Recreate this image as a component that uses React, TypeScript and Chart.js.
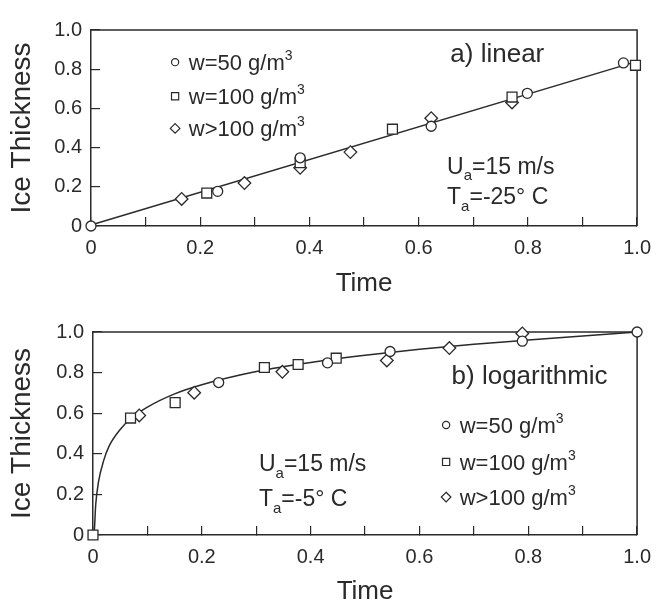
import React, { useEffect, useRef } from 'react';
import { Chart, registerables } from 'chart.js';

Chart.register(...registerables);

const FONT = '"Liberation Sans", Arial, Helvetica, sans-serif';
const INK = '#2a2a2a';

// ---------- Panel a) linear ----------
const linCircleX = [0, 0.232, 0.383, 0.623, 0.799, 0.975];
const linCircleY = [0, 0.177, 0.348, 0.509, 0.677, 0.832];
const linSquareX = [0.212, 0.383, 0.552, 0.771, 0.997];
const linSquareY = [0.168, 0.323, 0.494, 0.658, 0.82];
const linDiamondX = [0.166, 0.281, 0.383, 0.475, 0.623, 0.771];
const linDiamondY = [0.138, 0.219, 0.297, 0.377, 0.55, 0.63];
const linFitX = [0, 1.0];
const linFitY = [0.005, 0.84];

// ---------- Panel b) logarithmic ----------
const logCircleX = [0.231, 0.431, 0.546, 0.789, 1.0];
const logCircleY = [0.751, 0.848, 0.904, 0.955, 1.0];
const logSquareX = [0, 0.069, 0.151, 0.315, 0.377, 0.447];
const logSquareY = [0, 0.576, 0.652, 0.825, 0.84, 0.871];
const logDiamondX = [0.085, 0.186, 0.348, 0.54, 0.655, 0.789];
const logDiamondY = [0.589, 0.701, 0.804, 0.86, 0.921, 0.993];
const logFitX = [0, 0.002, 0.005, 0.01, 0.02, 0.03, 0.05, 0.07, 0.1, 0.15, 0.2, 0.3, 0.4, 0.5, 0.6, 0.7, 0.8, 0.9, 1.0];
const logFitY = [0, 0.01, 0.15, 0.26, 0.37, 0.44, 0.52, 0.575, 0.63, 0.695, 0.74, 0.805, 0.85, 0.885, 0.915, 0.94, 0.96, 0.98, 1.0];

// ---------- Text ----------
const seriesNames = ['w=50 g/m', 'w=100 g/m', 'w>100 g/m'];
const seriesStyles = ['circle', 'rect', 'rectRot'];
const xTitle = 'Time';
const yTitle = 'Ice Thickness';

type Seg = { t: string; mode?: 'sup' | 'sub' };

function pts(xs: number[], ys: number[]) {
  return xs.map((x, i) => ({ x, y: ys[i] }));
}

function xTickLabel(v: number) {
  const r = Math.round(v * 10);
  if (r === 0) return '0';
  if (r % 2 !== 0) return '';
  return (r / 10).toFixed(1);
}
function yTickLabel(v: number) {
  const r = Math.round(v * 10);
  if (r === 0) return '0';
  return (r / 10).toFixed(1);
}

function drawRich(ctx: CanvasRenderingContext2D, x: number, cy: number, segs: Seg[], size: number) {
  const base = cy + size * 0.36;
  let cx = x;
  ctx.textAlign = 'left';
  ctx.textBaseline = 'alphabetic';
  ctx.fillStyle = INK;
  for (const s of segs) {
    const fs = s.mode ? Math.round(size * 0.64) : size;
    ctx.font = `${fs}px ${FONT}`;
    const dy = s.mode === 'sup' ? -size * 0.45 : s.mode === 'sub' ? size * 0.3 : 0;
    ctx.fillText(s.t, cx, base + dy);
    cx += ctx.measureText(s.t).width;
  }
}

function drawMarker(ctx: CanvasRenderingContext2D, style: string, x: number, y: number) {
  ctx.beginPath();
  if (style === 'circle') {
    ctx.arc(x, y, 3.6, 0, Math.PI * 2);
  } else if (style === 'rect') {
    ctx.rect(x - 3.6, y - 3.6, 7.2, 7.2);
  } else {
    const r = 4.8;
    ctx.moveTo(x, y - r);
    ctx.lineTo(x + r, y);
    ctx.lineTo(x, y + r);
    ctx.lineTo(x - r, y);
    ctx.closePath();
  }
  ctx.fillStyle = '#fff';
  ctx.fill();
  ctx.strokeStyle = INK;
  ctx.lineWidth = 1.2;
  ctx.stroke();
}

interface PanelCfg {
  top: number;
  height: number;
  padTop: number;
  padRight: number;
  yWidth: number;
  xHeight: number;
  circles: { x: number; y: number }[];
  squares: { x: number; y: number }[];
  diamonds: { x: number; y: number }[];
  fit: { x: number; y: number }[];
  smooth: boolean;
  label: { text: string; x: number; y: number };
  legend: { mx: number; tx: number; ys: number[] };
  cond: { x: number; ys: number[]; temp: string };
}

const panelA: PanelCfg = {
  top: 0,
  height: 300,
  padTop: 13,
  padRight: 21,
  yWidth: 91,
  xHeight: 74,
  circles: pts(linCircleX, linCircleY),
  squares: pts(linSquareX, linSquareY),
  diamonds: pts(linDiamondX, linDiamondY),
  fit: pts(linFitX, linFitY),
  smooth: false,
  label: { text: 'a) linear', x: 0.658, y: 0.883 },
  legend: { mx: 0.154, tx: 0.179, ys: [0.836, 0.662, 0.498] },
  cond: { x: 0.652, ys: [0.31, 0.155], temp: '=-25° C' },
};

const panelB: PanelCfg = {
  top: 300,
  height: 308,
  padTop: 32,
  padRight: 19,
  yWidth: 93,
  xHeight: 73,
  circles: pts(logCircleX, logCircleY),
  squares: pts(logSquareX, logSquareY),
  diamonds: pts(logDiamondX, logDiamondY),
  fit: pts(logFitX, logFitY),
  smooth: true,
  label: { text: 'b) logarithmic', x: 0.659, y: 0.788 },
  legend: { mx: 0.649, tx: 0.674, ys: [0.542, 0.36, 0.187] },
  cond: { x: 0.305, ys: [0.355, 0.182], temp: '=-5° C' },
};

function buildConfig(cfg: PanelCfg): any {
  const markerCommon = {
    showLine: false,
    pointBackgroundColor: '#fff',
    pointBorderColor: INK,
    pointBorderWidth: 1.3,
    clip: false as any,
    order: 0,
  };
  const decor = {
    id: 'decor',
    beforeDatasetsDraw(chart: any) {
      const { ctx, chartArea: a } = chart;
      ctx.save();
      ctx.strokeStyle = INK;
      ctx.lineWidth = 1.5;
      ctx.beginPath();
      ctx.moveTo(a.left, a.top);
      ctx.lineTo(a.right, a.top);
      ctx.lineTo(a.right, a.bottom);
      ctx.stroke();
      ctx.restore();
    },
    afterDatasetsDraw(chart: any) {
      const { ctx } = chart;
      const xs = chart.scales.x;
      const ys = chart.scales.y;
      ctx.save();
      // panel label
      drawRich(ctx, xs.getPixelForValue(cfg.label.x), ys.getPixelForValue(cfg.label.y), [{ t: cfg.label.text }], 26);
      // legend
      cfg.legend.ys.forEach((yv, i) => {
        const py = ys.getPixelForValue(yv);
        drawMarker(ctx, seriesStyles[i], xs.getPixelForValue(cfg.legend.mx), py);
        drawRich(ctx, xs.getPixelForValue(cfg.legend.tx), py, [{ t: seriesNames[i] }, { t: '3', mode: 'sup' }], 22);
      });
      // conditions
      const cx = xs.getPixelForValue(cfg.cond.x);
      drawRich(ctx, cx, ys.getPixelForValue(cfg.cond.ys[0]), [{ t: 'U' }, { t: 'a', mode: 'sub' }, { t: '=15 m/s' }], 23);
      drawRich(ctx, cx, ys.getPixelForValue(cfg.cond.ys[1]), [{ t: 'T' }, { t: 'a', mode: 'sub' }, { t: cfg.cond.temp }], 23);
      ctx.restore();
    },
  };
  return {
    type: 'scatter',
    data: {
      datasets: [
        { ...markerCommon, label: seriesNames[0], data: cfg.circles, pointStyle: 'circle', pointRadius: 5 },
        { ...markerCommon, label: seriesNames[1], data: cfg.squares, pointStyle: 'rect', pointRadius: 7 },
        { ...markerCommon, label: seriesNames[2], data: cfg.diamonds, pointStyle: 'rectRot', pointRadius: 6.3 },
        {
          label: 'fit',
          data: cfg.fit,
          showLine: true,
          pointRadius: 0,
          borderColor: INK,
          borderWidth: 1.5,
          tension: 0,
          cubicInterpolationMode: cfg.smooth ? 'monotone' : 'default',
          order: 1,
          clip: false,
        },
      ],
    },
    options: {
      responsive: false,
      animation: false,
      events: [],
      layout: { padding: { top: cfg.padTop, right: cfg.padRight, left: 0, bottom: 0 } },
      plugins: { legend: { display: false }, tooltip: { enabled: false } },
      scales: {
        x: {
          type: 'linear',
          min: 0,
          max: 1,
          ticks: {
            stepSize: 0.1,
            autoSkip: false,
            maxRotation: 0,
            padding: 19,
            color: INK,
            font: { family: FONT, size: 20 },
            callback: (v: any) => xTickLabel(Number(v)),
          },
          grid: { drawOnChartArea: false, drawTicks: true, tickLength: -9, color: INK, lineWidth: 1.2 },
          border: { display: true, color: INK, width: 1.5 },
          title: { display: true, text: xTitle, color: INK, font: { family: FONT, size: 26 }, padding: { top: 0, bottom: 1 } },
          afterFit: (s: any) => {
            s.height = cfg.xHeight;
          },
        },
        y: {
          type: 'linear',
          min: 0,
          max: 1,
          ticks: {
            stepSize: 0.2,
            autoSkip: false,
            padding: 18,
            color: INK,
            font: { family: FONT, size: 20 },
            callback: (v: any) => yTickLabel(Number(v)),
          },
          grid: { drawOnChartArea: false, drawTicks: true, tickLength: -9, color: INK, lineWidth: 1.2 },
          border: { display: true, color: INK, width: 1.5 },
          title: { display: true, text: yTitle, color: INK, font: { family: FONT, size: 28 }, padding: { top: 5, bottom: 0 } },
          afterFit: (s: any) => {
            s.width = cfg.yWidth;
          },
        },
      },
    },
    plugins: [decor],
  };
}

function Panel({ cfg }: { cfg: PanelCfg }) {
  const ref = useRef<HTMLCanvasElement>(null);
  useEffect(() => {
    const chart = new Chart(ref.current as HTMLCanvasElement, buildConfig(cfg));
    return () => chart.destroy();
  }, [cfg]);
  return (
    <canvas
      ref={ref}
      width={670}
      height={cfg.height}
      style={{ position: 'absolute', left: 0, top: cfg.top, width: 670, height: cfg.height }}
    />
  );
}

export default function App() {
  return (
    <div style={{ position: 'absolute', left: 0, top: 0, width: 670, height: 608, background: '#fff', overflow: 'hidden' }}>
      <Panel cfg={panelA} />
      <Panel cfg={panelB} />
    </div>
  );
}
